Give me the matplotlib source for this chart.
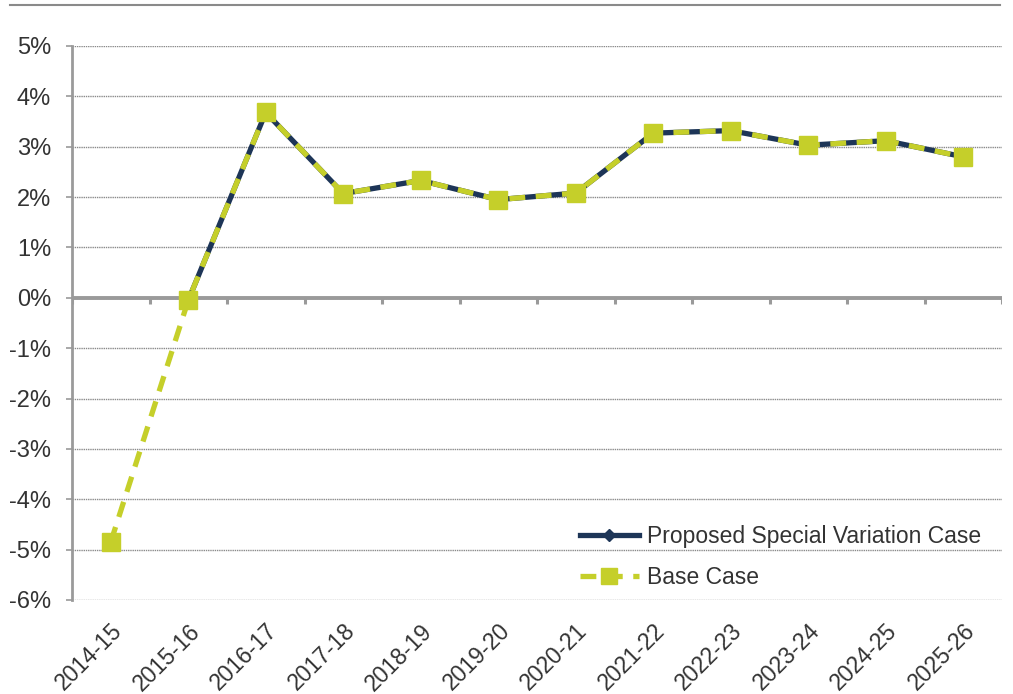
import matplotlib
matplotlib.use("Agg")
import matplotlib.pyplot as plt
from matplotlib.lines import Line2D
import numpy as np

categories = ["2014-15", "2015-16", "2016-17", "2017-18", "2018-19", "2019-20",
              "2020-21", "2021-22", "2022-23", "2023-24", "2024-25", "2025-26"]
proposed = [None, -0.05, 3.68, 2.07, 2.33, 1.95, 2.08, 3.27, 3.32, 3.03, 3.12, 2.80]
base = [-4.85, -0.05, 3.68, 2.07, 2.33, 1.95, 2.08, 3.27, 3.32, 3.03, 3.12, 2.80]
yticks = [5, 4, 3, 2, 1, 0, -1, -2, -3, -4, -5, -6]

plt.rcParams['font.family'] = ['Liberation Sans', 'DejaVu Sans']

fig = plt.figure(figsize=(10.13, 6.94), dpi=100)
ax = fig.add_axes([72/1013, 1-600/694, (1002-72)/1013, (600-46)/694])

x = np.arange(len(categories))
p = np.array([np.nan if v is None else v for v in proposed], dtype=float)
b = np.array(base, dtype=float)

for yv in yticks:
    ax.axhline(yv, color="#8a8a8a", lw=1.0, ls=(0, (1, 0.6)), zorder=1)
ax.axhline(0, color="#9a9a9a", lw=2.8, zorder=2)
for k in range(len(categories) + 1):
    ax.plot([k - 0.5, k - 0.5], [0, -0.12], color="#9a9a9a", lw=2.2, zorder=2, solid_capstyle="butt")

ax.plot(x, p, color="#1d3557", lw=3.8, marker="D", ms=7, mfc="#1d3557", mec="#1d3557",
        label="Proposed Special Variation Case", zorder=3)
ax.plot(x, b, color="#c5cf2a", lw=3.8, ls=(0, (3.0, 2.0)), marker="s", ms=13,
        mfc="#c5cf2a", mec="#c5cf2a", label="Base Case", zorder=4)

ax.set_xlim(-0.5, len(categories) - 0.5)
ax.set_ylim(-6, 5)
ax.set_yticks(yticks)
ax.set_yticklabels([f"{v}%" for v in yticks], fontsize=17, color="#333333")
ax.set_xticks(x)
ax.set_xticklabels(categories, rotation=45, ha="right", rotation_mode="anchor",
                   fontsize=16.5, color="#333333")
ax.tick_params(axis="y", length=4, width=1.2, color="#9a9a9a", pad=11)
ax.tick_params(axis="x", length=0, pad=14)

for s in ["top", "right", "bottom"]:
    ax.spines[s].set_visible(False)
ax.spines["left"].set_color("#9a9a9a")
ax.spines["left"].set_linewidth(2)

leg = ax.legend(loc="lower right", bbox_to_anchor=(1.0, -0.018), frameon=False,
                fontsize=16.5, handlelength=2.6, labelspacing=0.8, handletextpad=0.35,
                markerscale=0.85)
for t in leg.get_texts():
    t.set_color("#333333")

fig.add_artist(Line2D([10/1013, 1000/1013], [1-5/694, 1-5/694], color="#8a8a8a", lw=1.5,
                      transform=fig.transFigure))

fig.savefig("out.png", dpi=100, facecolor="white")
